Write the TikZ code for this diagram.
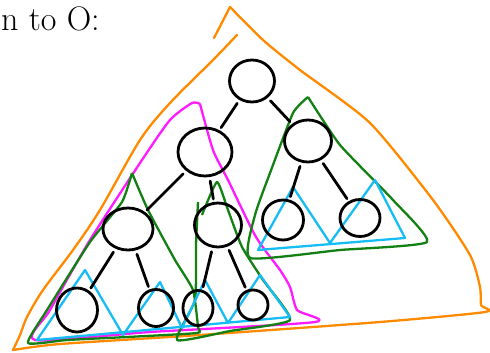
\documentclass[tikz,border=0pt]{standalone}
\usepackage{tikz}
\usepackage{xcolor}
\definecolor{sketchOrange}{HTML}{FF8A00}
\definecolor{sketchMagenta}{HTML}{FF1AFF}
\definecolor{sketchGreen}{HTML}{138013}
\definecolor{sketchCyan}{HTML}{16BDF5}
\usetikzlibrary{shapes.geometric}

\begin{document}
\begin{tikzpicture}[x=1pt, y=-1pt]
  \useasboundingbox (0,0) rectangle (490,353);
  \node[anchor=base west, inner sep=0pt, font=\fontsize{34}{36}\selectfont] (title) at (1,31) {n to O:};
  % outer triangle
  \draw[sketchOrange, line width=2.3pt, line cap=round] (214,38) -- (230,7);
  \draw[sketchOrange, line width=2.3pt, line cap=round, line join=round] plot[smooth, tension=0.5] coordinates {(237,35) (213,60) (170,103) (140,140) (100,210) (73,250) (43,290) (27,317) (20,335) (13,350)};
  \draw[sketchOrange, line width=2.3pt, line cap=round, line join=round] plot[smooth, tension=0.4] coordinates {(13,350) (60,344) (200,335) (380,322) (485,312) (481,305) (480,287) (470,255) (433,200) (370,123) (300,70) (263,40) (230,7)};
  % left subtree
  \draw[sketchMagenta, line width=2.3pt, line join=round] plot[smooth, tension=0.4] coordinates {(200,104) (192,103) (170,120) (142,160) (90,240) (50,310) (35,340) (150,332) (315,322) (297,310) (290,287) (280,270) (256,237) (228,180) (213,150) (200,104)};
  \draw[sketchGreen, line width=2.3pt, line join=round] plot[smooth, tension=0.3] coordinates {(132,173) (122,202) (90,242) (47,310) (28,343) (67,340) (127,337) (197,333) (198,327) (193,290) (175,260) (148,210) (132,173)};
  \draw[sketchGreen, line width=2.3pt, line join=round] plot[smooth, tension=0.3] coordinates {(198,202) (196,245) (195,300) (177,340) (230,331) (290,320) (263,280) (242,247) (228,210) (217,182) (202,215)};
  % right subtree
  \draw[sketchGreen, line width=2.3pt, line join=round] plot[smooth, tension=0.3] coordinates {(308,97) (340,145) (393,200) (427,242) (340,250) (250,258) (255,215) (270,173) (293,113) (308,97)};
  % leaves
  \draw[sketchCyan, line width=2.3pt, line join=round] (258,250) -- (293,187) -- (330,243) -- (375,180) -- (405,238) -- cycle;
  \draw[sketchCyan, line width=2.3pt, line join=round] (37,340) -- (85,270) -- (123,335) -- (160,282) -- (182,328) -- (205,280) -- (228,323) -- (260,275) -- (290,317) -- cycle;
  % tree
  \node[ellipse, draw, line width=2.8pt, minimum width=45pt, minimum height=42pt] (root) at (252,81) {};
  \node[ellipse, draw, line width=2.8pt, minimum width=54pt, minimum height=48pt] (L) at (205,152) {};
  \node[ellipse, draw, line width=2.8pt, minimum width=47pt, minimum height=42pt] (R) at (308,141) {};
  \node[ellipse, draw, line width=2.8pt, minimum width=50pt, minimum height=42pt] (LL) at (128,229) {};
  \node[ellipse, draw, line width=2.8pt, minimum width=47pt, minimum height=44pt] (LR) at (218,225) {};
  \node[ellipse, draw, line width=2.8pt, minimum width=41pt, minimum height=40pt] (RL) at (283,220) {};
  \node[ellipse, draw, line width=2.8pt, minimum width=40pt, minimum height=37pt] (RR) at (360,218) {};
  \node[ellipse, draw, line width=2.8pt, minimum width=41pt, minimum height=44pt] (LLL) at (77,310) {};
  \node[ellipse, draw, line width=2.8pt, minimum width=35pt, minimum height=37pt] (LLR) at (156,308) {};
  \node[ellipse, draw, line width=2.8pt, minimum width=30pt, minimum height=35pt] (LRL) at (198,308) {};
  \node[ellipse, draw, line width=2.8pt, minimum width=30pt, minimum height=30pt] (LRR) at (253,305) {};
  \draw[black, line width=2.8pt, line cap=round, shorten <=4pt, shorten >=3pt] (root) -- (L);
  \draw[black, line width=2.8pt, line cap=round, shorten <=4pt, shorten >=3pt] (root) -- (R);
  \draw[black, line width=2.8pt, line cap=round, shorten <=4pt, shorten >=3pt] (L) -- (LL);
  \draw[black, line width=2.8pt, line cap=round, shorten <=4pt, shorten >=3pt] (L) -- (LR);
  \draw[black, line width=2.8pt, line cap=round, shorten <=4pt, shorten >=3pt] (R) -- (RL);
  \draw[black, line width=2.8pt, line cap=round, shorten <=4pt, shorten >=3pt] (R) -- (RR);
  \draw[black, line width=2.8pt, line cap=round, shorten <=4pt, shorten >=3pt] (LL) -- (LLL);
  \draw[black, line width=2.8pt, line cap=round, shorten <=4pt, shorten >=3pt] (LL) -- (LLR);
  \draw[black, line width=2.8pt, line cap=round, shorten <=4pt, shorten >=3pt] (LR) -- (LRL);
  \draw[black, line width=2.8pt, line cap=round, shorten <=4pt, shorten >=3pt] (LR) -- (LRR);
\end{tikzpicture}
\end{document}
